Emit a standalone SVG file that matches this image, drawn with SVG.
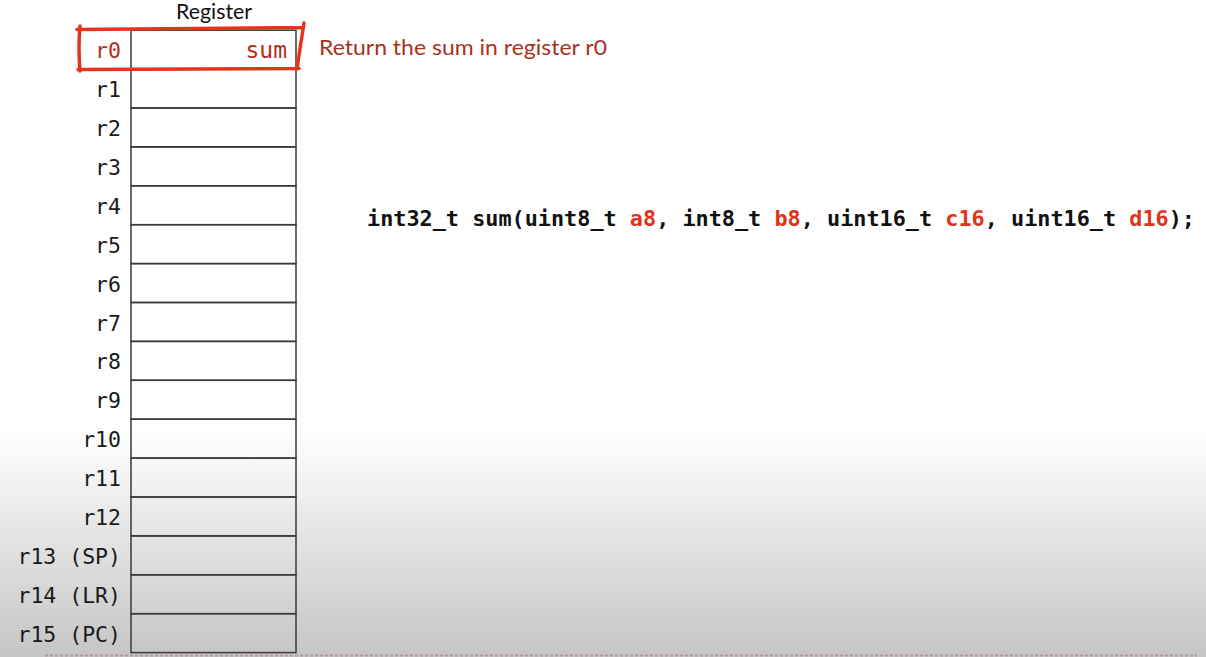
<svg xmlns="http://www.w3.org/2000/svg" width="1206" height="657" viewBox="0 0 1206 657">
<defs>
<linearGradient id="bg" x1="0" y1="0" x2="0" y2="657" gradientUnits="userSpaceOnUse">
<stop offset="0" stop-color="#ffffff"/>
<stop offset="0.655" stop-color="#ffffff"/>
<stop offset="1" stop-color="#c5c5c5"/>
</linearGradient>
</defs>
<style>
.cell{fill:none;stroke:#3a3a3a;stroke-width:1.5}
.lbl{font-family:"DejaVu Sans Mono","Liberation Mono",monospace;font-size:21.5px;fill:#1a1a1a;text-anchor:end}
.code{font-family:"DejaVu Sans Mono","Liberation Mono",monospace;font-size:22px;font-weight:bold;fill:#111}
.hl{fill:#e0331c}
.ann{fill:none;stroke:#e5341c;stroke-width:3.5;stroke-linecap:round}
.sans{font-family:Lato,"Open Sans","Liberation Sans",sans-serif}
</style>
<rect x="0" y="0" width="1206" height="657" fill="url(#bg)"/>
<text class="sans" x="214" y="19" font-size="21" text-anchor="middle" fill="#111" textLength="76" lengthAdjust="spacingAndGlyphs">Register</text>
<g id="registers">
<g id="reg-r0"><rect class="cell" x="131" y="30.2" width="165" height="38.9"/><text class="lbl" x="121" y="58" style="fill:#b0301e">r0</text><text class="lbl" x="287" y="58" style="fill:#b0301e;font-size:23px">sum</text></g>
<g id="reg-r1"><rect class="cell" x="131" y="69.1" width="165" height="38.9"/><text class="lbl" x="121" y="97">r1</text></g>
<g id="reg-r2"><rect class="cell" x="131" y="108" width="165" height="38.9"/><text class="lbl" x="121" y="136">r2</text></g>
<g id="reg-r3"><rect class="cell" x="131" y="146.9" width="165" height="38.9"/><text class="lbl" x="121" y="175">r3</text></g>
<g id="reg-r4"><rect class="cell" x="131" y="185.8" width="165" height="38.9"/><text class="lbl" x="121" y="214">r4</text></g>
<g id="reg-r5"><rect class="cell" x="131" y="224.7" width="165" height="38.9"/><text class="lbl" x="121" y="253">r5</text></g>
<g id="reg-r6"><rect class="cell" x="131" y="263.6" width="165" height="38.9"/><text class="lbl" x="121" y="292">r6</text></g>
<g id="reg-r7"><rect class="cell" x="131" y="302.5" width="165" height="38.9"/><text class="lbl" x="121" y="331">r7</text></g>
<g id="reg-r8"><rect class="cell" x="131" y="341.4" width="165" height="38.9"/><text class="lbl" x="121" y="369">r8</text></g>
<g id="reg-r9"><rect class="cell" x="131" y="380.3" width="165" height="38.9"/><text class="lbl" x="121" y="408">r9</text></g>
<g id="reg-r10"><rect class="cell" x="131" y="419.2" width="165" height="38.9"/><text class="lbl" x="121" y="447">r10</text></g>
<g id="reg-r11"><rect class="cell" x="131" y="458.1" width="165" height="38.9"/><text class="lbl" x="121" y="486">r11</text></g>
<g id="reg-r12"><rect class="cell" x="131" y="497" width="165" height="38.9"/><text class="lbl" x="121" y="525">r12</text></g>
<g id="reg-r13"><rect class="cell" x="131" y="535.9" width="165" height="38.9"/><text class="lbl" x="121" y="564">r13 (SP)</text></g>
<g id="reg-r14"><rect class="cell" x="131" y="574.8" width="165" height="38.9"/><text class="lbl" x="121" y="603">r14 (LR)</text></g>
<g id="reg-r15"><rect class="cell" x="131" y="613.7" width="165" height="38.9"/><text class="lbl" x="121" y="642">r15 (PC)</text></g>
</g>
<g id="highlight">
<path class="ann" d="M77,29.5 L302,27.5 M80,26 Q78,48 80,71 M78,69.5 L299,68.5 M304,23 L301,42 L297,69"/>
</g>
<text id="note" class="sans" x="319" y="55" font-size="22" fill="#a8321e" textLength="288" lengthAdjust="spacingAndGlyphs">Return the sum in register r0</text>
<text id="signature" class="code" x="367" y="226" textLength="828" lengthAdjust="spacingAndGlyphs">int32_t sum(uint8_t <tspan class="hl">a8</tspan>, int8_t <tspan class="hl">b8</tspan>, uint16_t <tspan class="hl">c16</tspan>, uint16_t <tspan class="hl">d16</tspan>);</text>
<g id="connectors"/>
<line x1="45" y1="655.5" x2="1197" y2="655.5" stroke="#b39c9c" stroke-width="2" stroke-dasharray="3,2"/>
</svg>
